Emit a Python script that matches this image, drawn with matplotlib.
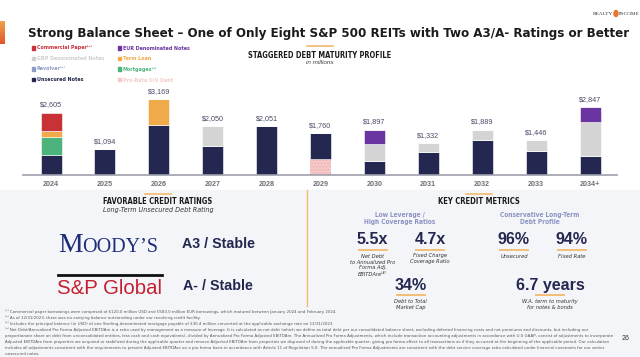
import matplotlib.pyplot as plt
import numpy as np
from matplotlib import font_manager
from matplotlib.patches import Rectangle, Ellipse
from matplotlib.colors import LinearSegmentedColormap

# debt maturities, $ millions
years = ['2024', '2025', '2026', '2027', '2028', '2029', '2030', '2031', '2032', '2033', '2034+']
pro_rata = [0, 0, 0, 0, 0, 650, 0, 0, 0, 0, 0]
unsecured = [840, 1069, 2069, 1190, 2051, 1110, 590, 940, 1450, 1000, 800]
mortgages = [750, 25, 0, 20, 0, 0, 0, 0, 0, 0, 0]
term_loan = [250, 0, 1100, 0, 0, 0, 0, 0, 0, 0, 0]
gbp_notes = [0, 0, 0, 840, 0, 0, 690, 392, 439, 446, 1430]
eur_notes = [0, 0, 0, 0, 0, 0, 617, 0, 0, 0, 617]
comm_paper = [765, 0, 0, 0, 0, 0, 0, 0, 0, 0, 0]
totals = [2605, 1094, 3169, 2050, 2051, 1760, 1897, 1332, 1889, 1446, 2847]

SANS = ['Liberation Sans', 'DejaVu Sans']
has_cond = any(f.name == 'DejaVu Sans' and 'condensed' in str(f.stretch)
               for f in font_manager.fontManager.ttflist)
if has_cond:
    NARROW = dict(family=['DejaVu Sans'], fontstretch='condensed')
else:
    NARROW = dict(family=SANS)
NAVY = '#24274f'
ORANGE = '#f3b96c'

fig = plt.figure(figsize=(6.4, 3.57), dpi=100)
bg = fig.add_axes([0, 0, 1, 1])
bg.set_xlim(0, 640)
bg.set_ylim(357, 0)
bg.axis('off')
renderer = fig.canvas.get_renderer()
to_fit = []


def fit(t, width):
    to_fit.append((t, width))
    return t


# grey lower panel
bg.add_patch(Rectangle((0, 190), 640, 167, color='#f4f5f8', zorder=0))
bg.plot([307, 307], [190, 306], color=ORANGE, lw=1)

# left accent bar with gradient
grad = np.linspace(0, 1, 50).reshape(-1, 1)
cm = LinearSegmentedColormap.from_list('acc', ['#f2a24c', '#e0552c'])
bg.imshow(grad, extent=[0, 5, 44, 21], cmap=cm, aspect='auto', zorder=1)

fit(bg.text(28, 33, 'Strong Balance Sheet \u2013 One of Only Eight S&P 500 REITs with Two A3/A- Ratings or Better',
            fontsize=12.5, weight='bold', color='#1b1b1b', va='center', **NARROW), 607)
bg.text(613, 14, 'REALTY', fontsize=3.8, family='Liberation Serif', color='#333', ha='right', va='center')
bg.add_patch(Ellipse((616, 13.5), 4, 6, color='#e8762c'))
bg.text(619, 14, 'INCOME', fontsize=3.8, family='Liberation Serif', color='#333', ha='left', va='center')

# legend
legend = [
    ('Commercial Paper', '\u207d\u00b9\u207e', '#c8323b', 32, 48),
    ('GBP Denominated Notes', '', '#cfcfcf', 32, 58.5),
    ('Revolver', '\u207d\u00b2\u207e', '#8e9bc8', 32, 69),
    ('Unsecured Notes', '', NAVY, 32, 79.5),
    ('EUR Denominated Notes', '', '#6a35a0', 118, 48),
    ('Term Loan', '', '#f0aa4a', 118, 58.5),
    ('Mortgages', '\u207d\u00b3\u207e', '#4db37c', 118, 69),
    ('Pro-Rata U/V Debt', '', '#f7caca', 118, 79.5),
]
leg_texts = []
for name, sup, col, x, y in legend:
    bg.add_patch(Rectangle((x, y - 1.7), 3.4, 3.4, color=col))
    leg_texts.append(bg.text(x + 4.8, y, name + sup, fontsize=5, weight='bold', color=col,
                             va='center', **NARROW))

bg.plot([307, 333], [46, 46], color=ORANGE, lw=1.2)
fit(bg.text(320, 55, 'STAGGERED DEBT MATURITY PROFILE', fontsize=6, weight='bold',
            color='#1b1b1b', ha='center', va='center', **NARROW), 146)
bg.text(320, 63, 'in millions', fontsize=4.6, family=SANS, style='italic', color='#444', ha='center', va='center')

# bar chart
ax = fig.add_axes([23 / 640, 1 - 175 / 357, 594 / 640, 80 / 357])
ax.patch.set_alpha(0)
x = np.arange(len(years))
w = 0.39
series = [
    (pro_rata, '#f7caca'),
    (unsecured, '#242850'),
    (mortgages, '#4db37c'),
    (term_loan, '#f0aa4a'),
    (gbp_notes, '#d4d4d4'),
    (eur_notes, '#6a35a0'),
    (comm_paper, '#c83237'),
]
bottom = np.zeros(len(years))
for vals, col in series:
    vals = np.array(vals, dtype=float)
    if vals is not None and col == '#f7caca':
        ax.bar(x, vals, w, bottom=bottom, color=col, edgecolor='#eeb3b3', linewidth=0, hatch='.....')
    else:
        ax.bar(x, vals, w, bottom=bottom, color=col, edgecolor='white', linewidth=0.4)
    bottom += vals
for i, t in enumerate(totals):
    ax.annotate('${:,}'.format(t), (x[i], t), xytext=(0, 3), textcoords='offset points',
                ha='center', va='bottom', fontsize=5.2, family=SANS, color='#4a4b68')
ax.set_xlim(-0.52, 10.5)
ax.set_ylim(0, 3336)
ax.set_yticks([])
for s in ['top', 'right', 'left']:
    ax.spines[s].set_visible(False)
ax.spines['bottom'].set_color('#a0a0ae')
ax.spines['bottom'].set_linewidth(1.2)
ax.set_xticks(x)
ax.set_xticklabels(years, fontsize=5.2, family=SANS, weight='bold', color='#707078')
ax.tick_params(axis='x', length=0, pad=4)

# credit ratings panel
bg.plot([145, 171], [194, 194], color=ORANGE, lw=1.2)
fit(bg.text(158, 202, 'FAVORABLE CREDIT RATINGS', fontsize=6, weight='bold',
            color='#1b1b1b', ha='center', va='center', **NARROW), 111)
fit(bg.text(158, 210, 'Long-Term Unsecured Debt Rating', fontsize=4.8, style='italic',
            color='#333', ha='center', va='center', **NARROW), 108)
bg.text(58, 251.5, 'M', fontsize=20, family='Liberation Serif', color='#1f2d7b', va='baseline')
bg.text(82, 251.5, 'OODY\u2019S', fontsize=14.5, family='Liberation Serif', color='#1f2d7b', va='baseline')
bg.text(182, 244, 'A3 / Stable', fontsize=10.3, family=SANS, weight='bold', color=NAVY, va='center')
bg.plot([58, 162], [275, 275], color='#111', lw=2)
bg.text(57, 289, 'S&P Global', fontsize=14.7, family=SANS, color='#c4202f', va='center')
bg.text(183, 286, 'A- / Stable', fontsize=10.3, family=SANS, weight='bold', color=NAVY, va='center')

# key credit metrics panel
bg.plot([466, 492], [194, 194], color=ORANGE, lw=1.2)
fit(bg.text(479, 202, 'KEY CREDIT METRICS', fontsize=6, weight='bold',
            color='#1b1b1b', ha='center', va='center', **NARROW), 83)
sub = '#8b93c4'
fit(bg.text(400, 218.5, 'Low Leverage /\nHigh Coverage Ratios', fontsize=5.2, weight='bold',
            color=sub, ha='center', va='center', linespacing=1.25, **NARROW), 72)
fit(bg.text(540, 218.5, 'Conservative Long-Term\nDebt Profile', fontsize=5.2, weight='bold',
            color=sub, ha='center', va='center', linespacing=1.25, **NARROW), 80)

metrics = [
    ('5.5x', 372.5, 240, 'Net Debt\nto Annualized Pro\nForma Adj.\nEBITDAre\u207d\u2074\u207e'),
    ('4.7x', 430, 240, 'Fixed Charge\nCoverage Ratio'),
    ('34%', 410.5, 285.5, 'Debt to Total\nMarket Cap'),
    ('96%', 514, 240, 'Unsecured'),
    ('94%', 571.5, 240, 'Fixed Rate'),
    ('6.7 years', 550, 285.5, 'W.A. term to maturity\nfor notes & bonds'),
]
desc_texts = []
for val, cx, cy, desc in metrics:
    bg.text(cx, cy, val, fontsize=11.5, family=SANS, weight='bold', color=NAVY, ha='center', va='center')
    bg.plot([cx - 14, cx + 14], [cy + 9.5, cy + 9.5], color=ORANGE, lw=1.3)
    desc_texts.append(bg.text(cx, cy + 13.5, desc, fontsize=4.8, style='italic', color='#333',
                              ha='center', va='top', linespacing=1.25, **NARROW))

footnotes = [
    '\u207d\u00b9\u207e Commercial paper borrowings were comprised of $120.0 million USD and \u20ac583.0 million EUR borrowings, which matured between January 2024 and February 2024.',
    '\u207d\u00b2\u207e As of 12/31/2023, there was no carrying balance outstanding under our revolving credit facility.',
    '\u207d\u00b3\u207e Includes the principal balance (in USD) of one Sterling-denominated mortgage payable of \u00a330.4 million converted at the applicable exchange rate on 12/31/2023.',
    '\u207d\u2074\u207e Net Debt/Annualized Pro Forma Adjusted EBITDAre is a ratio used by management as a measure of leverage. It is calculated as net debt (which we define as total debt per our consolidated balance sheet, excluding deferred financing costs and net premiums and discounts, but including our',
    'proportionate share on debt from unconsolidated entities, less cash and cash equivalents), divided by Annualized Pro Forma Adjusted EBITDAre. The Annualized Pro Forma Adjustments, which include transaction accounting adjustments in accordance with U.S GAAP, consist of adjustments to incorporate',
    'Adjusted EBITDAre from properties we acquired or stabilized during the applicable quarter and remove Adjusted EBITDAre from properties we disposed of during the applicable quarter, giving pro forma effect to all transactions as if they occurred at the beginning of the applicable period. Our calculation',
    'includes all adjustments consistent with the requirements to present Adjusted EBITDAre on a pro forma basis in accordance with Article 11 of Regulation S-X. The annualized Pro Forma Adjustments are consistent with the debt service coverage ratio calculated under financial covenants for our senior',
    'unsecured notes.',
]
foot_texts = []
for i, line in enumerate(footnotes):
    foot_texts.append(bg.text(5, 312 + i * 6, line, fontsize=3.1, color='#555', va='center', **NARROW))
bg.text(626, 338, '26', fontsize=5, family=SANS, color='#333', ha='center', va='center')

# scale text sizes to the widths measured on the reference
for t, width in to_fit:
    cur = t.get_window_extent(renderer).width
    t.set_fontsize(t.get_fontsize() * width / cur)
# legend: size from the widest label, shared by all
k = 68 / leg_texts[1].get_window_extent(renderer).width
for t in leg_texts:
    t.set_fontsize(t.get_fontsize() * k)
# metric descriptions, sized from "to Annualized Pro"
k = 45 / max(desc_texts[0].get_window_extent(renderer).width, 1)
for t in desc_texts:
    t.set_fontsize(t.get_fontsize() * k)
# footnotes: longest line runs to about x = 606
k = 601 / max(t.get_window_extent(renderer).width for t in foot_texts)
for t in foot_texts:
    t.set_fontsize(t.get_fontsize() * k)

fig.savefig('out.png', dpi=100)
